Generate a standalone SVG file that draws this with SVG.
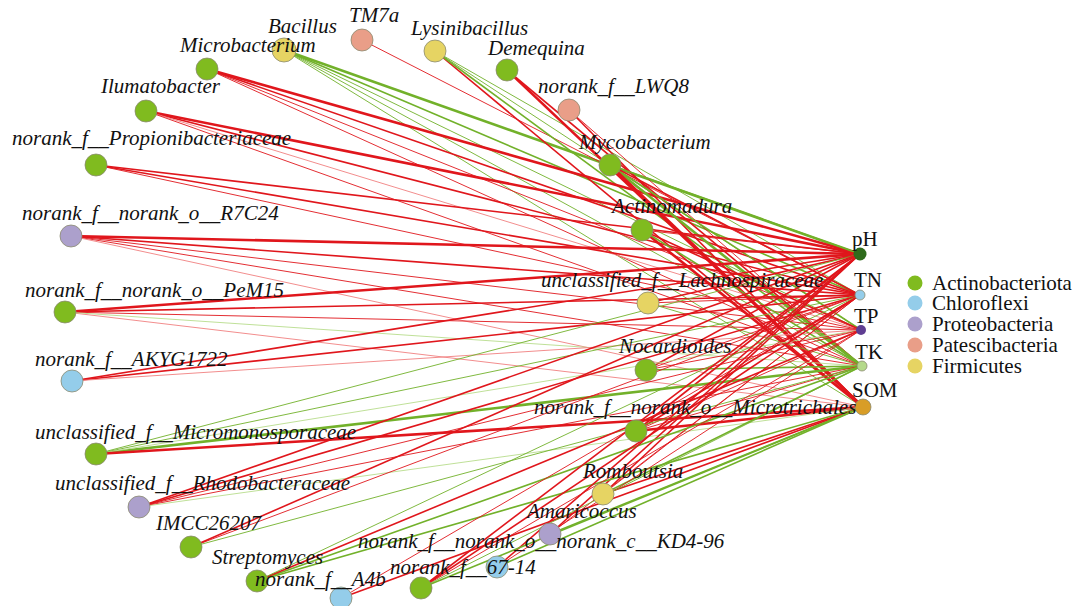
<svg xmlns="http://www.w3.org/2000/svg" width="1078" height="606" viewBox="0 0 1078 606">
<style>
.r1{stroke:#e0161c;stroke-width:2.6}
.r2{stroke:#e0161c;stroke-width:1.6}
.r3{stroke:#e0161c;stroke-width:0.9}
.rl{stroke:#f08080;stroke-width:0.9}
.g1{stroke:#72b12a;stroke-width:2.6}
.g2{stroke:#72b12a;stroke-width:1.6}
.g3{stroke:#72b12a;stroke-width:0.9}
.gl{stroke:#b8dc8c;stroke-width:0.9}
.n{stroke:#8a8a70;stroke-width:0.8}
.act{fill:#80bb1f}.chl{fill:#94cdea}.pro{fill:#aca0cc}.pat{fill:#e99e88}.fir{fill:#e6d463}
.lab{font-family:'Liberation Serif','Times New Roman',Times,'DejaVu Serif',serif;font-style:italic;font-size:21px;fill:#111}
.env{font-family:'Liberation Serif','Times New Roman',Times,'DejaVu Serif',serif;font-size:21px;fill:#111}
.leg{font-family:'Liberation Serif','Times New Roman',Times,'DejaVu Serif',serif;font-size:21px;fill:#111}
</style>
<rect width="1078" height="606" fill="#fff"/>
<g id="connectors" fill="none">
<line class="g1" x1="284" y1="50" x2="860" y2="254"/>
<line class="g2" x1="284" y1="50" x2="860" y2="295"/>
<line class="g3" x1="284" y1="50" x2="861" y2="330"/>
<line class="g3" x1="284" y1="50" x2="862" y2="366"/>
<line class="g3" x1="284" y1="50" x2="863" y2="407"/>
<line class="r3" x1="362" y1="40" x2="860" y2="295"/>
<line class="r2" x1="435" y1="51" x2="863" y2="407"/>
<line class="g2" x1="435" y1="51" x2="862" y2="366"/>
<line class="g3" x1="435" y1="51" x2="861" y2="330"/>
<line class="g3" x1="435" y1="51" x2="860" y2="295"/>
<line class="r1" x1="507" y1="70" x2="863" y2="407"/>
<line class="r2" x1="507" y1="70" x2="862" y2="366"/>
<line class="r2" x1="569" y1="110" x2="863" y2="407"/>
<line class="r3" x1="569" y1="110" x2="862" y2="366"/>
<line class="r1" x1="207" y1="69" x2="860" y2="254"/>
<line class="r2" x1="207" y1="69" x2="860" y2="295"/>
<line class="r3" x1="207" y1="69" x2="861" y2="330"/>
<line class="r3" x1="207" y1="69" x2="862" y2="366"/>
<line class="r1" x1="146" y1="111" x2="860" y2="254"/>
<line class="r2" x1="146" y1="111" x2="860" y2="295"/>
<line class="rl" x1="146" y1="111" x2="861" y2="330"/>
<line class="r3" x1="146" y1="111" x2="862" y2="366"/>
<line class="g2" x1="610" y1="165" x2="860" y2="254"/>
<line class="g2" x1="610" y1="165" x2="861" y2="330"/>
<line class="g1" x1="610" y1="165" x2="862" y2="366"/>
<line class="r1" x1="610" y1="165" x2="863" y2="407"/>
<line class="r2" x1="610" y1="165" x2="860" y2="295"/>
<line class="r2" x1="96" y1="165" x2="860" y2="254"/>
<line class="r2" x1="96" y1="165" x2="860" y2="295"/>
<line class="r3" x1="96" y1="165" x2="861" y2="330"/>
<line class="r1" x1="642" y1="230" x2="863" y2="407"/>
<line class="g2" x1="642" y1="230" x2="862" y2="366"/>
<line class="r2" x1="642" y1="230" x2="861" y2="330"/>
<line class="r3" x1="642" y1="230" x2="860" y2="254"/>
<line class="r1" x1="71" y1="236" x2="860" y2="254"/>
<line class="r2" x1="71" y1="236" x2="860" y2="295"/>
<line class="r3" x1="71" y1="236" x2="861" y2="330"/>
<line class="r3" x1="71" y1="236" x2="862" y2="366"/>
<line class="rl" x1="71" y1="236" x2="863" y2="407"/>
<line class="r2" x1="648" y1="303" x2="860" y2="254"/>
<line class="r3" x1="648" y1="303" x2="860" y2="295"/>
<line class="g3" x1="648" y1="303" x2="862" y2="366"/>
<line class="r1" x1="65" y1="312" x2="860" y2="254"/>
<line class="r2" x1="65" y1="312" x2="860" y2="295"/>
<line class="r3" x1="65" y1="312" x2="861" y2="330"/>
<line class="rl" x1="65" y1="312" x2="863" y2="407"/>
<line class="gl" x1="65" y1="312" x2="862" y2="366"/>
<line class="r2" x1="72" y1="381" x2="860" y2="254"/>
<line class="r2" x1="72" y1="381" x2="860" y2="295"/>
<line class="rl" x1="72" y1="381" x2="861" y2="330"/>
<line class="r2" x1="646" y1="370" x2="860" y2="254"/>
<line class="r3" x1="646" y1="370" x2="860" y2="295"/>
<line class="r3" x1="646" y1="370" x2="861" y2="330"/>
<line class="g2" x1="646" y1="370" x2="862" y2="366"/>
<line class="r2" x1="636" y1="431" x2="860" y2="254"/>
<line class="r2" x1="636" y1="431" x2="860" y2="295"/>
<line class="r3" x1="636" y1="431" x2="861" y2="330"/>
<line class="r3" x1="636" y1="431" x2="862" y2="366"/>
<line class="r1" x1="636" y1="431" x2="863" y2="407"/>
<line class="g1" x1="96" y1="454" x2="862" y2="366"/>
<line class="g3" x1="96" y1="454" x2="860" y2="254"/>
<line class="g3" x1="96" y1="454" x2="860" y2="295"/>
<line class="gl" x1="96" y1="454" x2="861" y2="330"/>
<line class="r1" x1="96" y1="454" x2="863" y2="407"/>
<line class="r2" x1="139" y1="507" x2="860" y2="254"/>
<line class="r2" x1="139" y1="507" x2="860" y2="295"/>
<line class="r3" x1="139" y1="507" x2="861" y2="330"/>
<line class="r3" x1="139" y1="507" x2="862" y2="366"/>
<line class="gl" x1="139" y1="507" x2="863" y2="407"/>
<line class="r2" x1="603" y1="494" x2="860" y2="254"/>
<line class="r2" x1="603" y1="494" x2="863" y2="407"/>
<line class="g2" x1="603" y1="494" x2="862" y2="366"/>
<line class="r3" x1="603" y1="494" x2="860" y2="295"/>
<line class="r2" x1="191" y1="547" x2="860" y2="254"/>
<line class="r3" x1="191" y1="547" x2="860" y2="295"/>
<line class="g3" x1="191" y1="547" x2="862" y2="366"/>
<line class="r2" x1="550" y1="534" x2="860" y2="254"/>
<line class="r3" x1="550" y1="534" x2="860" y2="295"/>
<line class="g2" x1="550" y1="534" x2="863" y2="407"/>
<line class="g2" x1="257" y1="581" x2="862" y2="366"/>
<line class="g2" x1="257" y1="581" x2="863" y2="407"/>
<line class="r2" x1="257" y1="581" x2="861" y2="330"/>
<line class="g3" x1="257" y1="581" x2="860" y2="295"/>
<line class="r2" x1="341" y1="598" x2="863" y2="407"/>
<line class="r3" x1="341" y1="598" x2="860" y2="295"/>
<line class="g2" x1="497" y1="567" x2="863" y2="407"/>
<line class="r2" x1="497" y1="567" x2="860" y2="254"/>
<line class="r3" x1="497" y1="567" x2="861" y2="330"/>
<line class="r2" x1="421" y1="588" x2="860" y2="254"/>
<line class="r2" x1="421" y1="588" x2="860" y2="295"/>
<line class="r3" x1="421" y1="588" x2="861" y2="330"/>
<line class="g2" x1="421" y1="588" x2="863" y2="407"/>
<line class="g3" x1="421" y1="588" x2="862" y2="366"/>
</g>
<g id="node-pH"><circle cx="860" cy="254" r="6.5" fill="#2f6b1c"/><text class="env" x="852" y="246">pH</text></g>
<g id="node-TN"><circle cx="860" cy="295" r="5" fill="#94cdea" class="n"/><text class="env" x="854" y="287">TN</text></g>
<g id="node-TP"><circle cx="861" cy="330" r="5" fill="#5f3e92"/><text class="env" x="854" y="323">TP</text></g>
<g id="node-TK"><circle cx="862" cy="366" r="5" fill="#b4d98a" class="n"/><text class="env" x="855" y="359">TK</text></g>
<g id="node-SOM"><circle cx="863" cy="407" r="8" fill="#d89d27" class="n"/><text class="env" x="852" y="397">SOM</text></g>
<g id="node-Bacillus"><circle cx="284" cy="50" r="12" class="fir n"/><text class="lab" x="268" y="33">Bacillus</text></g>
<g id="node-TM7a"><circle cx="362" cy="40" r="11" class="pat n"/><text class="lab" x="349" y="22">TM7a</text></g>
<g id="node-Lysinibacillus"><circle cx="435" cy="51" r="11" class="fir n"/><text class="lab" x="411" y="35">Lysinibacillus</text></g>
<g id="node-Demequina"><circle cx="507" cy="70" r="11" class="act n"/><text class="lab" x="488" y="55">Demequina</text></g>
<g id="node-LWQ8"><circle cx="569" cy="110" r="11" class="pat n"/><text class="lab" x="538" y="93">norank_f__LWQ8</text></g>
<g id="node-Microbacterium"><circle cx="207" cy="69" r="11" class="act n"/><text class="lab" x="180" y="52">Microbacterium</text></g>
<g id="node-Ilumatobacter"><circle cx="146" cy="111" r="11" class="act n"/><text class="lab" x="101" y="93">Ilumatobacter</text></g>
<g id="node-Mycobacterium"><circle cx="610" cy="165" r="11" class="act n"/><text class="lab" x="579" y="149">Mycobacterium</text></g>
<g id="node-Propionibacteriaceae"><circle cx="96" cy="165" r="11" class="act n"/><text class="lab" x="12" y="145">norank_f__Propionibacteriaceae</text></g>
<g id="node-Actinomadura"><circle cx="642" cy="230" r="11" class="act n"/><text class="lab" x="612" y="213">Actinomadura</text></g>
<g id="node-R7C24"><circle cx="71" cy="236" r="11" class="pro n"/><text class="lab" x="22" y="220">norank_f__norank_o__R7C24</text></g>
<g id="node-Lachnospiraceae"><circle cx="648" cy="303" r="11" class="fir n"/><text class="lab" x="541" y="287">unclassified_f__Lachnospiraceae</text></g>
<g id="node-PeM15"><circle cx="65" cy="312" r="11" class="act n"/><text class="lab" x="25" y="297">norank_f__norank_o__PeM15</text></g>
<g id="node-AKYG1722"><circle cx="72" cy="381" r="11" class="chl n"/><text class="lab" x="35" y="366">norank_f__AKYG1722</text></g>
<g id="node-Nocardioides"><circle cx="646" cy="370" r="11" class="act n"/><text class="lab" x="619" y="353">Nocardioides</text></g>
<g id="node-Microtrichales"><circle cx="636" cy="431" r="11" class="act n"/><text class="lab" x="534" y="414">norank_f__norank_o__Microtrichales</text></g>
<g id="node-Micromonosporaceae"><circle cx="96" cy="454" r="11" class="act n"/><text class="lab" x="35" y="439">unclassified_f__Micromonosporaceae</text></g>
<g id="node-Rhodobacteraceae"><circle cx="139" cy="507" r="11" class="pro n"/><text class="lab" x="55" y="490">unclassified_f__Rhodobacteraceae</text></g>
<g id="node-Romboutsia"><circle cx="603" cy="494" r="11" class="fir n"/><text class="lab" x="583" y="478">Romboutsia</text></g>
<g id="node-IMCC26207"><circle cx="191" cy="547" r="11" class="act n"/><text class="lab" x="156" y="530">IMCC26207</text></g>
<g id="node-Amaricoccus"><circle cx="550" cy="534" r="11" class="pro n"/><text class="lab" x="527" y="518">Amaricoccus</text></g>
<g id="node-Streptomyces"><circle cx="257" cy="581" r="11" class="act n"/><text class="lab" x="212" y="564">Streptomyces</text></g>
<g id="node-KD4-96"><circle cx="421" cy="588" r="11" class="act n"/><text class="lab" x="358" y="548">norank_f__norank_o__norank_c__KD4-96</text></g>
<g id="node-A4b"><circle cx="341" cy="598" r="11" class="chl n"/><text class="lab" x="255" y="586">norank_f__A4b</text></g>
<g id="node-67-14"><circle cx="497" cy="567" r="11" class="chl n"/><text class="lab" x="390" y="574">norank_f__67-14</text></g>
<g id="legend">
<circle cx="915" cy="283" r="7.5" class="act"/><text class="leg" x="932" y="290">Actinobacteriota</text>
<circle cx="915" cy="303" r="7.5" class="chl"/><text class="leg" x="932" y="310">Chloroflexi</text>
<circle cx="915" cy="324" r="7.5" class="pro"/><text class="leg" x="932" y="331">Proteobacteria</text>
<circle cx="915" cy="345" r="7.5" class="pat"/><text class="leg" x="932" y="352">Patescibacteria</text>
<circle cx="915" cy="366" r="7.5" class="fir"/><text class="leg" x="932" y="373">Firmicutes</text>
</g>
</svg>
